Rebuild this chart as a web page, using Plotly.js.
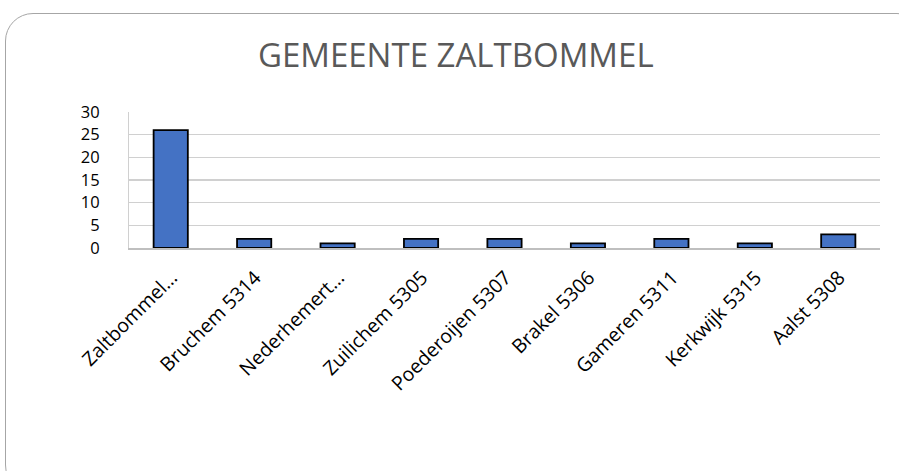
<!DOCTYPE html>
<html><head><meta charset="utf-8">
<script src="https://cdn.plot.ly/plotly-3.0.1.min.js"></script>
<style>
html,body{margin:0;padding:0;background:#fff;overflow:hidden;}
#frame{position:absolute;left:5px;top:13px;width:920px;height:480px;border:1px solid #a6a6a6;border-radius:28px;box-sizing:border-box;}
#chart{position:absolute;left:0;top:0;width:899px;height:471px;}
</style></head>
<body>
<div id="frame"></div>
<div id="chart"></div>
<script>
const categories = ["Zaltbommel…","Bruchem 5314","Nederhemert…","Zuilichem 5305","Poederoijen 5307","Brakel 5306","Gameren 5311","Kerkwijk 5315","Aalst 5308"];
const values = [26, 2, 1, 2, 2, 1, 2, 1, 3];
const yTicks = [0, 5, 10, 15, 20, 25, 30];

const trace = {
  type: "bar", x: categories, y: values,
  marker: {color: "#4472C4", line: {color: "#000000", width: 1.8}},
  hoverinfo: "skip"
};
const layout = {
  width: 899, height: 471,
  paper_bgcolor: "rgba(0,0,0,0)", plot_bgcolor: "rgba(0,0,0,0)",
  margin: {l: 129, r: 19, t: 112, b: 223, pad: 0},
  bargap: 0.59,
  showlegend: false,
  title: {text: "GEMEENTE ZALTBOMMEL", x: 0.507, xanchor: "center", y: 0.882, yanchor: "middle",
          font: {family: "Open Sans, sans-serif", size: 33, color: "#595959"}},
  xaxis: {type: "category", tickangle: -45, showgrid: false, showline: true, linecolor: "#bfbfbf", linewidth: 1.5,
          ticks: "", ticklabelshift: 1, ticklabelstandoff: 9,
          tickfont: {family: "Open Sans, sans-serif", size: 19.5, color: "#000"}},
  yaxis: {range: [0, 30], tickvals: yTicks, ticktext: yTicks.map(String), showgrid: true, gridcolor: "#d0d0d0", gridwidth: 1.2,
          showline: true, linecolor: "#d0d0d0", linewidth: 1, zeroline: false, ticks: "", ticklabelstandoff: 25,
          tickfont: {family: "Open Sans, sans-serif", size: 16.5, color: "#000"}}
};
Plotly.newPlot("chart", [trace], layout, {staticPlot: true, displayModeBar: false});
</script>
</body></html>
